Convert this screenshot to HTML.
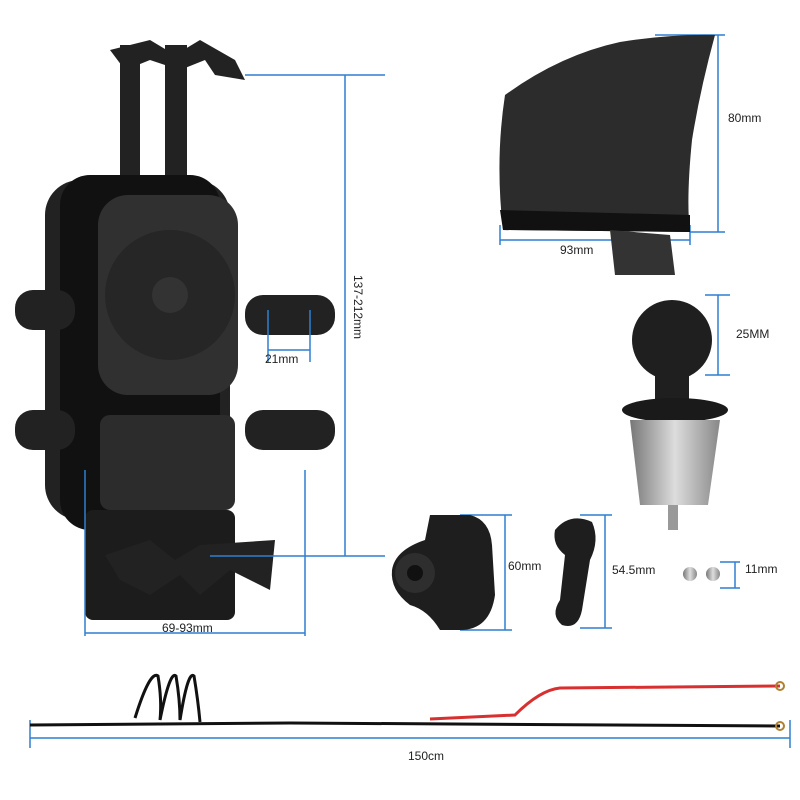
<!DOCTYPE html>
<html><head><meta charset="utf-8"><style>
html,body{margin:0;padding:0;background:#fff;width:800px;height:800px;overflow:hidden}
text{font-family:"Liberation Sans",sans-serif;font-size:12px;fill:#222}
</style></head><body>
<svg width="800" height="800" viewBox="0 0 800 800" xmlns="http://www.w3.org/2000/svg">
<defs>
<linearGradient id="met" x1="0" x2="1"><stop offset="0" stop-color="#777"/><stop offset=".5" stop-color="#ddd"/><stop offset="1" stop-color="#888"/></linearGradient>
</defs>
<!-- phone holder -->
<g fill="#222">
<rect x="120" y="45" width="20" height="140"/><rect x="165" y="45" width="22" height="140"/>
<path d="M110 50 L150 40 L175 55 L200 40 L235 60 L245 80 L215 75 L205 60 L180 70 L150 60 L125 70 Z"/>
<rect x="45" y="180" width="185" height="340" rx="35"/>
<rect x="60" y="175" width="160" height="355" rx="30" fill="#111"/>
<rect x="98" y="195" width="140" height="200" rx="30" fill="#303030"/>
<circle cx="170" cy="295" r="65" fill="#262626"/>
<circle cx="170" cy="295" r="18" fill="#333"/>
<rect x="100" y="415" width="135" height="95" rx="10" fill="#2c2c2c"/>
<rect x="15" y="290" width="60" height="40" rx="18"/><rect x="15" y="410" width="60" height="40" rx="18"/>
<rect x="245" y="295" width="90" height="40" rx="18"/><rect x="245" y="410" width="90" height="40" rx="18"/>
<rect x="85" y="510" width="150" height="110" rx="8" fill="#1c1c1c"/>
<path d="M105 555 L150 540 L175 560 L200 545 L275 540 L270 590 L230 570 L200 595 L180 575 L150 595 L120 580 Z"/>
</g>
<g stroke="#2f7fd0" stroke-width="1.5" fill="none">
<line x1="345" y1="75" x2="345" y2="556"/><line x1="245" y1="75" x2="385" y2="75"/><line x1="210" y1="556" x2="385" y2="556"/>
<line x1="85" y1="470" x2="85" y2="636"/><line x1="305" y1="470" x2="305" y2="636"/><line x1="85" y1="633" x2="305" y2="633"/>
<line x1="268" y1="310" x2="268" y2="362"/><line x1="310" y1="310" x2="310" y2="362"/><line x1="268" y1="350" x2="310" y2="350"/>
<line x1="718" y1="35" x2="718" y2="232"/><line x1="655" y1="35" x2="725" y2="35"/><line x1="690" y1="232" x2="725" y2="232"/>
<line x1="500" y1="225" x2="500" y2="245"/><line x1="690" y1="225" x2="690" y2="245"/><line x1="500" y1="240" x2="690" y2="240"/>
<line x1="718" y1="295" x2="718" y2="375"/><line x1="705" y1="295" x2="730" y2="295"/><line x1="705" y1="375" x2="730" y2="375"/>
<line x1="505" y1="515" x2="505" y2="630"/><line x1="460" y1="515" x2="512" y2="515"/><line x1="460" y1="630" x2="512" y2="630"/>
<line x1="605" y1="515" x2="605" y2="628"/><line x1="580" y1="515" x2="612" y2="515"/><line x1="580" y1="628" x2="612" y2="628"/>
<line x1="735" y1="562" x2="735" y2="588"/><line x1="720" y1="562" x2="740" y2="562"/><line x1="720" y1="588" x2="740" y2="588"/>
<line x1="30" y1="738" x2="790" y2="738"/><line x1="30" y1="720" x2="30" y2="748"/><line x1="790" y1="720" x2="790" y2="748"/>
</g>
<text x="265" y="363">21mm</text>
<text x="162" y="632">69-93mm</text>
<text x="354" y="275" transform="rotate(90 354 275)">137-212mm</text>
<!-- visor -->
<path d="M505 95 Q560 55 620 42 Q670 34 715 35 Q700 90 692 140 Q686 200 690 232 L503 230 Q495 160 505 95 Z" fill="#2c2c2c"/>
<path d="M500 210 L690 215 L690 232 L503 230 Z" fill="#111"/>
<path d="M610 230 L670 235 L675 275 L615 275 Z" fill="#333"/>
<text x="728" y="122">80mm</text><text x="560" y="254">93mm</text>
<!-- ball mount -->
<circle cx="672" cy="340" r="40" fill="#1f1f1f"/>
<rect x="655" y="375" width="34" height="25" fill="#1f1f1f"/>
<ellipse cx="675" cy="410" rx="53" ry="12" fill="#1a1a1a"/>
<path d="M630 420 L720 420 L708 505 L640 505 Z" fill="url(#met)"/>
<rect x="668" y="505" width="10" height="25" fill="#999"/>
<text x="736" y="338">25MM</text>
<!-- arm pieces -->
<path d="M430 515 L470 515 Q490 520 492 545 L495 595 Q490 630 460 630 L440 630 Q428 610 410 605 Q390 590 392 570 Q395 550 425 540 Z" fill="#1e1e1e"/>
<circle cx="415" cy="573" r="20" fill="#2e2e2e"/><circle cx="415" cy="573" r="8" fill="#111"/>
<path d="M555 530 Q570 512 592 522 Q600 540 590 560 L582 610 Q578 630 562 625 Q550 615 560 600 L565 555 Q552 545 555 530 Z" fill="#1e1e1e"/>
<text x="508" y="570">60mm</text><text x="612" y="574">54.5mm</text>
<circle cx="690" cy="574" r="7" fill="url(#met)"/><circle cx="713" cy="574" r="7" fill="url(#met)"/>
<text x="745" y="573">11mm</text>
<!-- cable -->
<g fill="none" stroke-width="3">
<path d="M30 725 L290 723 L780 726" stroke="#111"/>
<path d="M430 719 L515 715 Q540 690 560 688 L780 686" stroke="#d83030"/>
<path d="M135 718 Q150 670 158 676 Q162 700 160 720 Q170 670 176 676 Q180 700 180 720 Q188 670 194 676 Q198 700 200 722" stroke="#111"/>
<circle cx="780" cy="686" r="4" stroke="#b08030" stroke-width="2"/>
<circle cx="780" cy="726" r="4" stroke="#b08030" stroke-width="2"/>
</g>
<text x="408" y="760">150cm</text>
</svg>
</body></html>
